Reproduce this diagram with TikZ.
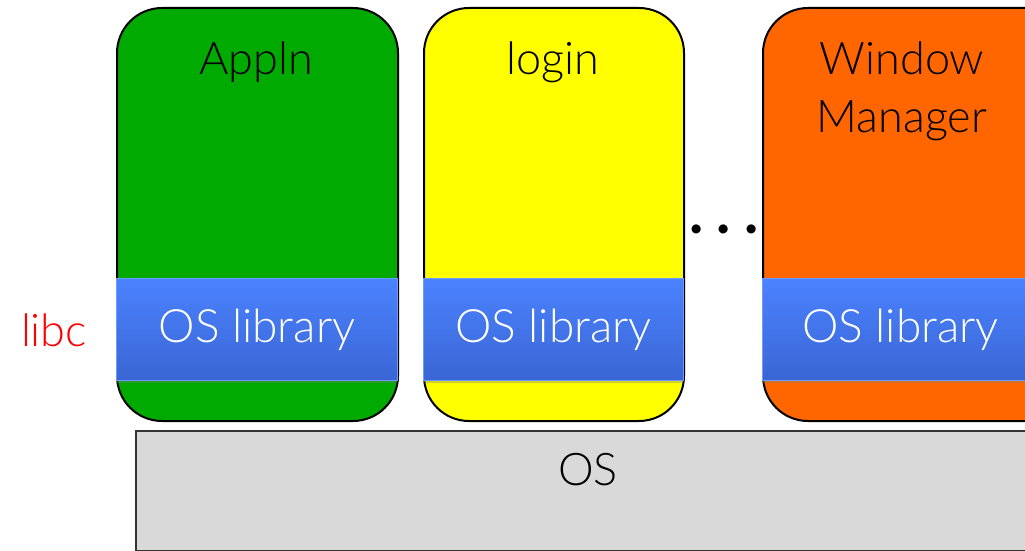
\documentclass[tikz,border=0pt]{standalone}
\usepackage{fontspec}
\setmainfont{Lato}[UprightFont=* Light, BoldFont=* Bold]
\usetikzlibrary{shadows}
\definecolor{appgreen}{HTML}{00AA00}
\definecolor{appyellow}{HTML}{FFFF00}
\definecolor{apporange}{HTML}{FF6600}
\definecolor{ostgray}{HTML}{D9D9D9}
\definecolor{bartop}{HTML}{4B82FF}
\definecolor{barbot}{HTML}{3A66D4}
\definecolor{libcred}{HTML}{FF0000}
\begin{document}
\begin{tikzpicture}[x=1pt,y=-1pt,
  appbox/.style={draw=black, line width=2pt, rounded corners=45pt, anchor=north west, minimum height=413pt, inner sep=0pt},
  libbar/.style={anchor=north west, minimum height=102pt, inner sep=0pt, top color=bartop, bottom color=barbot, draw=bartop!80!white, line width=0.8pt, text=white, font=\fontsize{46}{50}\selectfont, drop shadow={opacity=0.35, shadow xshift=0pt, shadow yshift=-3pt}},
  lbl/.style={font=\fontsize{45}{58}\selectfont, align=center, inner sep=0pt}]
\useasboundingbox (0,0) rectangle (1025,551);
% OS
\node[draw=black!80, line width=1.5pt, fill=ostgray, anchor=north west, minimum width=1000pt, minimum height=120pt, inner sep=0pt] (os) at (135,430) {};
\node[lbl] (ostext) at (588,470) {OS};
% applications
\node[appbox, fill=appgreen, minimum width=281pt] (appln) at (116,7) {};
\node[appbox, fill=appyellow, minimum width=260pt] (login) at (423,7) {};
\node[appbox, fill=apporange, minimum width=320pt] (wm) at (762,7) {};
\node[lbl] (applnt) at (256,62) {Appln};
\node[lbl] (logint) at (553,62) {login};
\node[lbl] (wmt) at (902,91) {Window\\Manager};
% library bars
\node[libbar, minimum width=281pt] (lib1) at (116,278) {OS library};
\node[libbar, minimum width=260pt] (lib2) at (423,278) {OS library};
\node[libbar, minimum width=300pt] (lib3) at (762,278) {\hspace*{-24pt}OS library};
% labels
\node[lbl, text=libcred] (libc) at (54,330) {libc};
\node[anchor=base, inner sep=0pt, font=\fontsize{60}{60}\bfseries] (dots) at (724,233) {.\hspace{13pt}.\hspace{13pt}.};
\end{tikzpicture}
\end{document}
